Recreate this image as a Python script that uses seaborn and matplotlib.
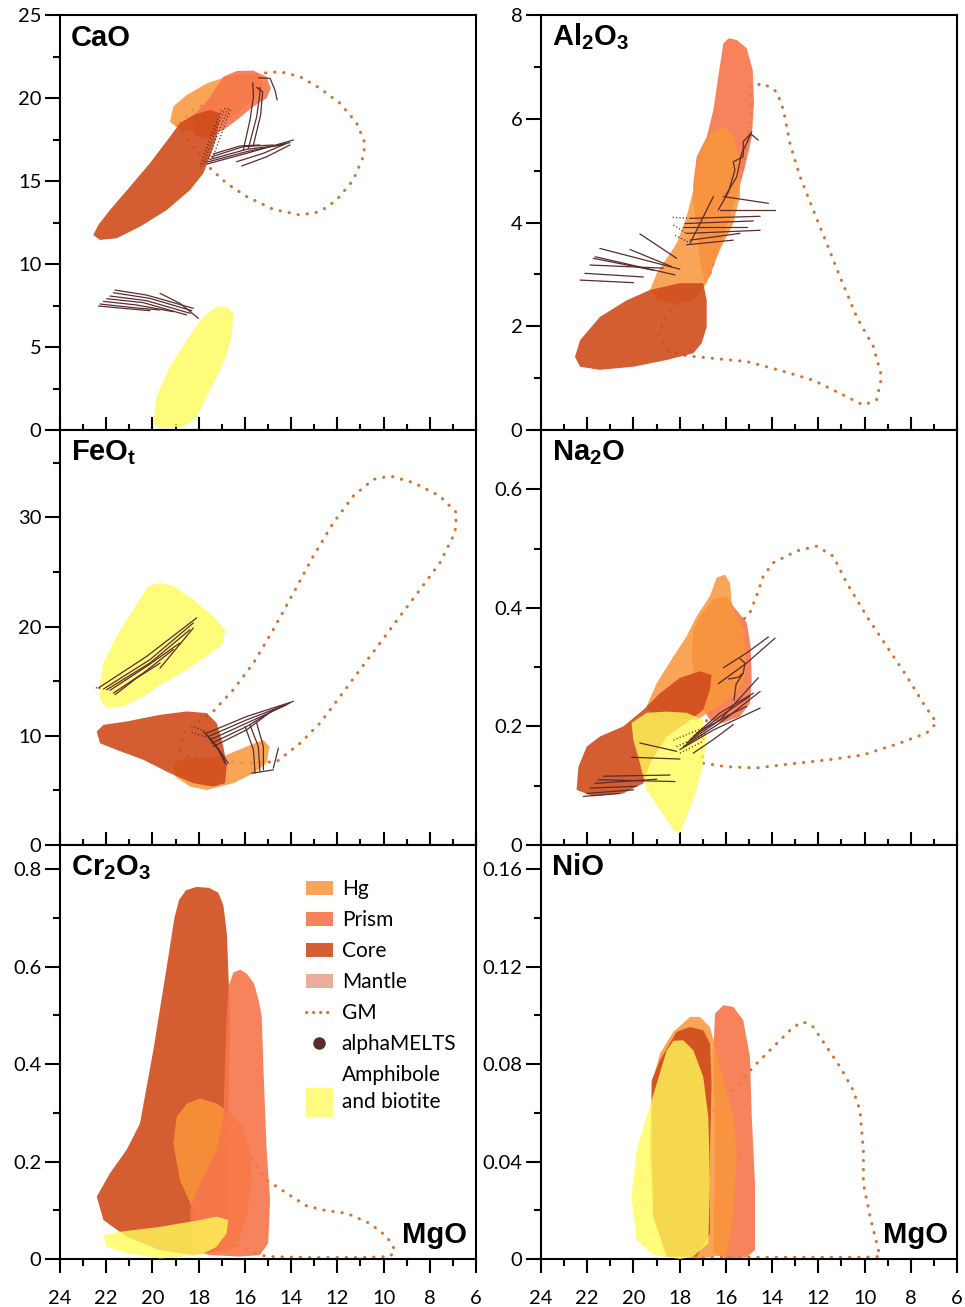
import matplotlib
matplotlib.use("Agg")
import matplotlib.pyplot as plt
import pandas as pd
import seaborn as sns
from matplotlib.patches import Patch, Rectangle
from matplotlib.lines import Line2D
from matplotlib.legend_handler import HandlerPatch
from matplotlib.ticker import MultipleLocator, FuncFormatter

# ---------------------------------------------------------------- data
# Fields are outlines in (MgO wt.%, oxide wt.%) space.

# CaO vs MgO
CAO_CORE = [(22.56, 11.75), (22.34, 12.35), (21.84, 13.25), (20.97, 14.66), (20.11, 16.07),
            (19.24, 17.67), (18.81, 18.48), (18.23, 18.98), (17.51, 19.28), (17.08, 19.08),
            (17.22, 17.67), (17.51, 16.46), (17.80, 15.46), (18.37, 14.46), (19.38, 13.25),
            (20.54, 12.25), (21.55, 11.55), (22.27, 11.45)]
CAO_HG = [(19.24, 18.57), (19.10, 19.48), (18.52, 20.18), (17.65, 20.88), (16.79, 21.28),
          (15.92, 21.48), (15.35, 21.28), (15.20, 20.68), (15.64, 19.88), (16.35, 19.08),
          (17.08, 18.37), (17.94, 17.97), (18.81, 18.07)]
CAO_PRISM = [(18.23, 18.07), (18.16, 19.08), (17.65, 19.78), (16.93, 21.28), (16.35, 21.63),
             (15.64, 21.65), (15.06, 21.28), (14.88, 20.58), (15.06, 19.98), (15.64, 19.48),
             (16.35, 18.67), (16.93, 18.07), (17.65, 17.57), (18.09, 17.67)]
CAO_AMPH = [(19.96, 0.40), (19.82, 2.01), (19.24, 3.81), (18.52, 5.42), (17.80, 6.83),
            (17.22, 7.43), (16.79, 7.43), (16.50, 7.03), (16.57, 5.62), (16.93, 4.02),
            (17.51, 2.41), (18.09, 0.80), (18.66, 0.20), (19.67, 0.10)]
CAO_GM = [(18.95, 18.37), (18.23, 17.07), (17.58, 15.86), (16.79, 14.86), (15.92, 14.06),
          (14.77, 13.29), (13.61, 12.95), (12.75, 13.15), (12.03, 13.86), (11.31, 15.06),
          (10.88, 16.46), (10.80, 17.27), (11.16, 18.48), (11.88, 19.68), (12.75, 20.58),
          (13.61, 21.28), (14.48, 21.59), (15.35, 21.48), (16.21, 21.08), (17.22, 20.08),
          (18.23, 19.28), (18.95, 18.37)]
CAO_MELTS = [
    [(21.62, 8.43), (20.25, 8.13), (18.23, 7.33)],
    [(21.69, 8.27), (20.11, 7.93), (18.30, 7.19)],
    [(21.84, 8.07), (20.25, 7.79), (18.37, 7.03)],
    [(21.98, 7.91), (20.39, 7.67), (18.52, 6.93)],
    [(22.12, 7.75), (20.68, 7.53), (19.10, 7.13)],
    [(22.27, 7.59), (20.83, 7.37), (19.67, 7.23)],
    [(22.34, 7.47), (21.12, 7.31), (20.11, 7.19)],
    [(19.67, 8.23), (18.81, 7.63), (18.01, 6.73)],
    [(17.65, 16.02), (15.92, 16.67), (13.90, 17.47)],
    [(17.58, 16.16), (15.92, 16.77), (14.05, 17.31)],
    [(17.51, 16.30), (15.92, 16.91), (14.34, 17.17)],
    [(17.44, 16.46), (16.07, 17.07), (14.77, 17.17)],
    [(17.37, 16.63), (16.21, 17.11), (15.35, 17.17)],
    [(16.14, 15.90), (15.06, 16.46), (14.05, 17.17)],
    [(16.36, 16.16), (15.20, 16.67), (14.19, 17.27)],
    [(16.07, 16.87), (15.78, 18.67), (15.63, 20.08), (15.66, 20.92)],
    [(15.85, 16.97), (15.49, 18.87), (15.35, 20.28), (15.35, 20.64)],
    [(15.63, 17.17), (15.32, 18.97), (15.23, 20.38), (15.49, 20.64)],
    [(15.42, 21.22), (14.91, 21.18), (14.70, 20.48), (14.60, 19.88)],
]
CAO_MELTS_DOTTED = [
    [(16.72, 19.38), (17.22, 17.67), (17.65, 16.06)],
    [(16.86, 19.38), (17.37, 17.67), (17.80, 15.96)],
    [(17.00, 19.28), (17.51, 17.57), (17.94, 15.86)],
    [(16.64, 19.28), (17.08, 17.57), (17.44, 16.26)],
]

# Al2O3 vs MgO
AL_CORE = [(22.53, 1.41), (22.31, 1.73), (21.45, 2.18), (20.29, 2.50), (19.28, 2.70),
           (17.99, 2.83), (16.98, 2.83), (16.83, 2.50), (16.83, 1.99), (17.05, 1.67),
           (17.41, 1.48), (18.56, 1.35), (20.00, 1.22), (21.45, 1.16), (22.31, 1.22)]
AL_HG = [(19.28, 2.70), (18.99, 3.02), (18.13, 3.60), (17.70, 4.11), (17.41, 4.63),
         (17.12, 5.33), (16.69, 5.72), (16.11, 5.85), (15.68, 5.65), (15.39, 5.20),
         (15.39, 4.50), (15.68, 3.98), (16.11, 3.60), (16.54, 3.21), (16.83, 2.83),
         (17.41, 2.50), (18.27, 2.44), (18.99, 2.50)]
AL_PRISM = [(17.41, 4.75), (17.26, 5.27), (16.83, 5.65), (16.54, 6.17), (16.33, 6.81),
            (16.11, 7.45), (15.89, 7.55), (15.53, 7.52), (15.10, 7.36), (14.84, 6.94),
            (14.78, 6.30), (14.88, 5.65), (15.17, 5.08), (15.53, 4.50), (15.97, 3.92),
            (16.40, 3.34), (16.69, 2.96), (16.90, 2.83), (17.12, 3.21), (17.26, 3.92),
            (17.41, 4.37)]
AL_GM = [(14.96, 6.62), (14.38, 6.68), (13.80, 6.52), (13.51, 6.17), (13.23, 5.53),
         (12.79, 4.88), (12.22, 4.24), (11.64, 3.60), (11.06, 2.95), (10.34, 2.18),
         (9.62, 1.61), (9.26, 1.03), (9.48, 0.58), (10.05, 0.48), (10.77, 0.64),
         (12.22, 0.96), (13.66, 1.15), (15.10, 1.32), (16.54, 1.38), (17.70, 1.43),
         (18.56, 1.54), (18.92, 1.86), (18.56, 2.25), (17.70, 2.57), (16.98, 2.83),
         (16.69, 3.02), (16.26, 3.60), (15.97, 4.11), (15.53, 4.63), (15.25, 5.14),
         (15.03, 5.65), (14.89, 6.17), (14.96, 6.62)]
AL_MELTS = [
    [(21.45, 3.50), (17.99, 3.10)],
    [(21.66, 3.34), (18.20, 2.99)],
    [(21.88, 3.18), (18.71, 3.12)],
    [(22.10, 3.02), (19.57, 2.95)],
    [(22.31, 2.89), (20.00, 2.84)],
    [(20.15, 3.48), (18.35, 3.15)],
    [(19.72, 3.78), (18.13, 3.31)],
    [(21.74, 3.31), (19.14, 3.08)],
    [(17.70, 3.57), (15.68, 3.66)],
    [(17.55, 3.66), (15.39, 3.79)],
    [(17.70, 3.79), (14.52, 3.85)],
    [(17.84, 3.92), (15.10, 3.92)],
    [(17.77, 3.98), (14.81, 4.03)],
    [(17.55, 4.08), (14.52, 4.12)],
    [(16.25, 4.24), (13.87, 4.24)],
    [(16.11, 4.50), (14.16, 4.37)],
    [(17.55, 3.60), (17.12, 3.98), (16.69, 4.37), (16.54, 4.50)],
    [(16.33, 4.24), (15.89, 4.59), (15.61, 5.01), (15.68, 5.17), (15.25, 5.27),
     (15.25, 5.56), (14.93, 5.71), (14.60, 5.59)],
    [(16.04, 4.50), (15.53, 4.88), (15.32, 5.33), (15.10, 5.53), (14.88, 5.75)],
]
AL_MELTS_DOTTED = [
    [(18.27, 3.95), (17.70, 3.79)],
    [(18.20, 3.75), (17.60, 3.62)],
    [(18.30, 4.10), (17.55, 4.08)],
]

# FeOt vs MgO
FE_CORE = [(22.41, 10.39), (22.12, 11.00), (21.12, 11.31), (19.67, 11.92), (18.52, 12.23),
           (17.65, 12.08), (17.22, 11.16), (16.93, 9.02), (16.79, 7.18), (16.86, 5.66),
           (17.37, 5.35), (18.23, 5.66), (19.24, 6.57), (20.39, 7.80), (21.55, 8.71),
           (22.27, 9.32)]
FE_HG = [(19.10, 7.49), (18.66, 7.95), (17.65, 7.95), (16.79, 8.25), (15.92, 9.02),
         (15.20, 9.63), (14.94, 9.02), (15.06, 7.49), (15.63, 6.57), (16.50, 5.66),
         (17.65, 5.04), (18.37, 5.35), (19.02, 6.27)]
FE_AMPH = [(22.27, 14.83), (22.12, 16.66), (21.55, 19.11), (20.83, 21.56), (20.18, 23.70),
           (19.67, 24.00), (19.10, 23.70), (18.23, 22.47), (17.37, 20.94), (16.86, 19.72),
           (16.93, 18.50), (17.65, 17.27), (18.52, 16.05), (19.53, 14.83), (20.39, 13.60),
           (21.26, 12.69), (21.98, 12.54), (22.27, 13.30)]
FE_GM = [(18.81, 8.71), (18.66, 10.24), (18.09, 11.16), (17.37, 12.23), (16.50, 14.22),
         (15.63, 16.66), (14.77, 19.72), (13.90, 23.08), (13.04, 26.45), (12.17, 29.51),
         (11.31, 31.95), (10.44, 33.48), (9.72, 33.79), (8.71, 33.18), (7.56, 31.95),
         (6.84, 30.42), (6.91, 28.59), (7.56, 25.84), (8.42, 23.39), (9.29, 20.94),
         (10.15, 18.50), (11.02, 16.05), (11.88, 13.60), (12.75, 11.16), (13.61, 9.32),
         (14.62, 7.64), (15.92, 7.49), (17.51, 7.80), (18.52, 8.10), (18.81, 8.71)]
FE_MELTS = [
    [(22.34, 14.37), (20.25, 17.27), (18.09, 20.79)],
    [(22.12, 14.28), (20.11, 16.97), (18.23, 20.33)],
    [(21.98, 14.22), (20.11, 16.66), (18.37, 19.72)],
    [(21.84, 14.16), (20.25, 16.36), (18.81, 18.50)],
    [(21.69, 13.91), (20.39, 15.75), (19.10, 17.89)],
    [(21.62, 13.76), (20.68, 15.29), (19.67, 16.66)],
    [(19.67, 16.20), (18.23, 19.87)],
    [(17.65, 10.24), (15.92, 11.77), (13.90, 13.15)],
    [(17.58, 9.94), (15.92, 11.46), (14.05, 12.99)],
    [(17.51, 9.63), (15.92, 11.16), (14.19, 12.84)],
    [(17.44, 9.32), (15.92, 10.85), (14.48, 12.69)],
    [(17.37, 9.02), (15.92, 10.55), (14.77, 12.38)],
    [(17.80, 10.39), (17.22, 9.02), (16.72, 7.49)],
    [(17.65, 10.09), (17.15, 8.71), (16.79, 7.34)],
    [(17.51, 9.78), (17.08, 8.56), (16.86, 7.49)],
    [(15.99, 10.85), (15.63, 8.71), (15.56, 6.57)],
    [(15.78, 11.00), (15.42, 9.02), (15.35, 6.73)],
    [(15.49, 11.16), (15.20, 9.02), (15.20, 6.88)],
    [(15.71, 6.57), (14.77, 6.88)],
    [(14.77, 7.03), (14.55, 8.87)],
]
FE_MELTS_DOTTED = [
    [(22.45, 14.40), (22.20, 14.35)],
    [(18.20, 10.80), (17.60, 10.30)],
    [(18.30, 10.30), (17.70, 9.90)],
]

# Na2O vs MgO
NA_CORE = [(22.46, 0.093), (22.38, 0.132), (22.02, 0.166), (21.45, 0.183), (20.44, 0.200),
           (19.57, 0.228), (18.85, 0.256), (17.99, 0.282), (17.12, 0.293), (16.62, 0.287),
           (16.69, 0.262), (16.98, 0.228), (17.70, 0.206), (18.56, 0.183), (19.28, 0.138),
           (19.57, 0.104), (20.44, 0.087), (21.74, 0.082)]
NA_HG = [(19.43, 0.234), (18.99, 0.273), (18.27, 0.318), (17.70, 0.352), (17.26, 0.386),
         (16.69, 0.420), (16.40, 0.451), (16.04, 0.456), (15.82, 0.442), (15.75, 0.409),
         (15.53, 0.386), (15.25, 0.363), (15.10, 0.307), (15.25, 0.273), (15.68, 0.251),
         (16.54, 0.228), (17.26, 0.211), (18.27, 0.211), (19.14, 0.217)]
NA_PRISM = [(17.48, 0.318), (17.41, 0.363), (17.12, 0.386), (16.54, 0.414), (15.97, 0.420),
            (15.68, 0.403), (15.10, 0.375), (14.93, 0.335), (14.88, 0.279), (14.96, 0.239),
            (15.39, 0.217), (16.11, 0.206), (16.69, 0.211), (17.05, 0.234), (17.34, 0.273)]
NA_AMPH = [(20.08, 0.206), (19.43, 0.223), (18.56, 0.225), (17.70, 0.223), (16.98, 0.211),
           (16.83, 0.183), (16.98, 0.138), (17.26, 0.093), (17.70, 0.048), (17.99, 0.020),
           (18.27, 0.025), (18.85, 0.059), (19.43, 0.093), (19.72, 0.138), (20.01, 0.178)]
NA_GM = [(16.98, 0.138), (15.97, 0.132), (14.67, 0.130), (12.94, 0.138), (11.50, 0.144),
         (10.05, 0.152), (8.47, 0.172), (7.31, 0.189), (6.88, 0.206), (7.46, 0.239),
         (8.18, 0.285), (9.04, 0.335), (9.91, 0.386), (10.77, 0.442), (11.35, 0.487),
         (12.07, 0.504), (12.94, 0.496), (13.95, 0.476), (14.38, 0.454), (14.67, 0.420),
         (14.96, 0.392), (15.25, 0.380), (15.46, 0.358), (15.68, 0.307), (16.26, 0.262),
         (16.83, 0.211), (17.05, 0.166), (16.98, 0.138)]
NA_MELTS = [
    [(21.30, 0.116), (18.42, 0.118)],
    [(21.52, 0.110), (18.20, 0.107)],
    [(21.66, 0.104), (18.99, 0.111)],
    [(21.88, 0.096), (19.86, 0.099)],
    [(22.02, 0.087), (20.00, 0.093)],
    [(22.17, 0.082), (20.58, 0.087)],
    [(19.72, 0.172), (18.13, 0.158)],
    [(20.08, 0.148), (17.99, 0.145)],
    [(17.99, 0.161), (16.54, 0.194), (14.52, 0.231)],
    [(17.84, 0.166), (16.25, 0.206), (14.52, 0.259)],
    [(17.70, 0.172), (16.25, 0.211), (14.60, 0.282)],
    [(17.55, 0.178), (16.25, 0.217), (14.96, 0.251)],
    [(17.41, 0.183), (16.25, 0.223), (14.81, 0.256)],
    [(17.26, 0.189), (15.97, 0.217), (15.10, 0.234)],
    [(17.41, 0.155), (16.54, 0.178), (15.68, 0.203)],
    [(16.11, 0.299), (15.10, 0.324), (14.16, 0.351)],
    [(16.33, 0.272), (15.10, 0.307), (13.87, 0.349)],
    [(15.65, 0.244), (15.56, 0.271), (15.25, 0.290), (15.17, 0.307), (15.39, 0.314)],
    [(15.89, 0.280), (15.46, 0.283), (15.25, 0.290)],
]
NA_MELTS_DOTTED = [
    [(18.27, 0.177), (16.83, 0.200)],
    [(18.13, 0.166), (16.83, 0.189)],
    [(17.99, 0.155), (16.98, 0.175)],
]

# Cr2O3 vs MgO
CR_CORE = [(22.41, 0.128), (21.84, 0.176), (21.12, 0.224), (20.54, 0.278), (19.96, 0.429),
           (19.38, 0.600), (19.05, 0.700), (18.85, 0.737), (18.55, 0.757), (18.09, 0.764),
           (17.55, 0.762), (17.15, 0.752), (16.93, 0.726), (16.78, 0.668), (16.64, 0.497),
           (16.72, 0.292), (16.64, 0.087), (17.08, 0.018), (18.23, 0.008), (19.67, 0.018),
           (21.12, 0.046), (22.12, 0.080)]
CR_PRISM = [(18.30, 0.018), (18.37, 0.101), (17.94, 0.155), (17.22, 0.224), (16.93, 0.292),
            (16.79, 0.497), (16.70, 0.560), (16.50, 0.588), (16.20, 0.594), (15.92, 0.586),
            (15.60, 0.565), (15.40, 0.530), (15.27, 0.497), (15.20, 0.395), (15.06, 0.224),
            (14.91, 0.121), (14.99, 0.032), (15.35, 0.008), (16.21, 0.005), (17.51, 0.008)]
CR_HG = [(19.10, 0.237), (18.95, 0.292), (18.52, 0.319), (17.94, 0.330), (17.22, 0.319),
         (16.64, 0.299), (16.07, 0.271), (15.78, 0.224), (15.71, 0.155), (15.92, 0.087),
         (16.36, 0.025), (16.93, 0.012), (17.65, 0.053), (18.23, 0.101), (18.81, 0.162)]
CR_AMPH = [(22.12, 0.049), (21.40, 0.056), (19.67, 0.066), (17.94, 0.080), (17.22, 0.087),
           (16.72, 0.080), (16.79, 0.053), (17.22, 0.025), (17.94, 0.008), (19.67, 0.001),
           (21.12, 0.012), (21.98, 0.025)]
CR_GM = [(18.95, 0.271), (18.52, 0.299), (17.80, 0.299), (16.79, 0.271), (15.92, 0.224),
         (15.06, 0.162), (14.19, 0.135), (13.33, 0.109), (12.46, 0.099), (11.60, 0.094),
         (10.59, 0.073), (9.86, 0.046), (9.50, 0.018), (9.72, 0.005), (11.02, 0.003),
         (13.18, 0.003), (15.06, 0.005), (15.92, 0.018), (17.08, 0.053), (18.23, 0.121),
         (18.81, 0.196), (18.95, 0.271)]

# NiO vs MgO
NI_PRISM = [(16.54, 0.0023), (16.47, 0.0447), (16.54, 0.0857), (16.47, 0.1008), (16.11, 0.1042),
            (15.68, 0.1035), (15.25, 0.0981), (14.96, 0.0830), (14.88, 0.0584), (14.74, 0.0310),
            (14.74, 0.0037), (15.10, 0.0007), (15.97, 0.0003)]
NI_HG = [(19.21, 0.0721), (18.85, 0.0844), (18.27, 0.0933), (17.55, 0.0994), (17.12, 0.0994),
         (16.69, 0.0953), (16.25, 0.0789), (15.68, 0.0584), (15.53, 0.0447), (15.68, 0.0174),
         (15.97, 0.0016), (17.26, 0.0003), (18.56, 0.0010), (19.14, 0.0174), (19.28, 0.0447)]
NI_CORE = [(19.21, 0.0734), (18.85, 0.0816), (18.13, 0.0933), (17.55, 0.0953), (16.98, 0.0939),
           (16.69, 0.0885), (16.62, 0.0721), (16.69, 0.0447), (16.69, 0.0105), (17.26, 0.0010),
           (18.56, 0.0010), (19.14, 0.0174), (19.21, 0.0447)]
NI_AMPH = [(20.08, 0.0256), (19.86, 0.0447), (19.43, 0.0584), (18.99, 0.0721), (18.56, 0.0857),
           (18.27, 0.0896), (17.84, 0.0898), (17.41, 0.0857), (16.98, 0.0748), (16.76, 0.0584),
           (16.69, 0.0310), (16.76, 0.0064), (17.41, 0.0010), (17.99, 0.0000), (19.14, 0.0016),
           (19.86, 0.0078)]
NI_GM = [(16.54, 0.0611), (15.68, 0.0693), (14.81, 0.0789), (13.95, 0.0871), (13.08, 0.0953),
         (12.65, 0.0974), (12.22, 0.0953), (11.64, 0.0871), (11.06, 0.0789), (10.49, 0.0693),
         (10.20, 0.0611), (10.05, 0.0447), (10.05, 0.0310), (9.76, 0.0174), (9.33, 0.0010),
         (10.05, 0.0007), (12.22, 0.0007), (14.38, 0.0007), (16.54, 0.0007), (17.70, 0.0007)]

# ---------------------------------------------------------------- style
COL = {
    "Hg": "#F9963A",
    "Prism": "#F7764A",
    "Core": "#D04B1B",
    "Mantle": "#E8AD9C",
    "GM": "#CF7434",
    "MELTS": "#5B2B2E",
    "Amph": "#FFFA5A",
}
ALPHA = {"Hg": 0.85, "Prism": 0.9, "Core": 0.9, "Amph": 0.8}

sns.set_style("ticks")
plt.rcParams.update({
    "font.family": ["Lato", "DejaVu Sans"],
    "mathtext.fontset": "custom",
    "mathtext.rm": "Liberation Sans:bold",
    "mathtext.bf": "Liberation Sans:bold",
    "mathtext.it": "Liberation Sans:bold",
    "axes.edgecolor": "black",
    "axes.linewidth": 1.5,
    "xtick.color": "black",
    "ytick.color": "black",
    "text.color": "black",
})

fig = plt.figure(figsize=(9.65, 13.07), dpi=100)

W = 416 / 965
H = 415 / 1307
LEFT, RIGHT = 60 / 965, 541 / 965
ROWS = [1 - 430 / 1307, 1 - 845 / 1307, 1 - 1259 / 1307]

fmt = FuncFormatter(lambda v, p: f"{v:g}")


def melts_frame(tracks):
    rows = []
    for k, tr in enumerate(tracks):
        for i, (x, y) in enumerate(tr):
            rows.append({"track": k, "step": i, "MgO": x, "val": y})
    return pd.DataFrame(rows)


def setup(ax, ylim, major, minor, bottom_row, title, title_x=0.027):
    ax.set_xlim(24, 6)
    ax.set_ylim(*ylim)
    ax.xaxis.set_major_locator(MultipleLocator(2))
    ax.xaxis.set_minor_locator(MultipleLocator(1))
    ax.yaxis.set_major_locator(MultipleLocator(major))
    ax.yaxis.set_minor_locator(MultipleLocator(minor))
    ax.yaxis.set_major_formatter(fmt)
    ax.xaxis.set_major_formatter(fmt)
    ax.tick_params(axis="y", which="major", direction="out", length=10.5, width=1.5,
                   labelsize=14.5, pad=3)
    ax.tick_params(axis="y", which="minor", direction="out", length=5, width=1.5)
    if bottom_row:
        ax.tick_params(axis="x", which="major", direction="out", length=10, width=1.5,
                       labelsize=14.5, pad=12)
        ax.tick_params(axis="x", which="minor", direction="out", length=5, width=1.5)
    else:
        ax.tick_params(axis="x", which="major", direction="in", length=9.5, width=1.5,
                       labelbottom=False)
        ax.tick_params(axis="x", which="minor", direction="in", length=4, width=1.5)
    for s in ax.spines.values():
        s.set_linewidth(1.5)
        s.set_color("black")
    ax.set_xlabel("")
    ax.set_ylabel("")
    ax.text(title_x, 1 - 30.5 / 415, title, transform=ax.transAxes, fontsize=21,
            fontweight="bold", family="Liberation Sans", va="baseline", ha="left")
    if bottom_row:
        ax.text(0.978, 16 / 414, "MgO", transform=ax.transAxes, fontsize=21,
                fontweight="bold", family="Liberation Sans", va="baseline", ha="right")


def fill_field(ax, pts, key, z):
    xs = [p[0] for p in pts]
    ys = [p[1] for p in pts]
    ax.fill(xs, ys, color=COL[key], alpha=ALPHA[key], lw=0, zorder=z)


def draw(ax, fields, gm, melts=None, dotted=None):
    for z, (pts, key) in enumerate(fields):
        fill_field(ax, pts, key, 2 + z)
    gx = [p[0] for p in gm]
    gy = [p[1] for p in gm]
    sns.lineplot(x=gx, y=gy, sort=False, estimator=None, ax=ax, color=COL["GM"],
                 lw=2.2, linestyle=(0, (0.1, 2.9)), dash_capstyle="round", zorder=1)
    if melts:
        sns.lineplot(data=melts_frame(melts), x="MgO", y="val", units="track",
                     estimator=None, sort=False, ax=ax, color=COL["MELTS"], lw=0.9,
                     zorder=10, legend=False)
    if dotted:
        sns.lineplot(data=melts_frame(dotted), x="MgO", y="val", units="track",
                     estimator=None, sort=False, ax=ax, color=COL["MELTS"], lw=1.0,
                     linestyle=(0, (0.8, 1.6)), zorder=10, legend=False)


# CaO
ax = fig.add_axes([LEFT, ROWS[0], W, H])
draw(ax, [(CAO_HG, "Hg"), (CAO_PRISM, "Prism"), (CAO_CORE, "Core"), (CAO_AMPH, "Amph")],
     CAO_GM, CAO_MELTS, CAO_MELTS_DOTTED)
setup(ax, (0, 25), 5, 2.5, False, "CaO")

# Al2O3
ax = fig.add_axes([RIGHT, ROWS[0], W, H])
draw(ax, [(AL_PRISM, "Prism"), (AL_HG, "Hg"), (AL_CORE, "Core")],
     AL_GM, AL_MELTS, AL_MELTS_DOTTED)
setup(ax, (0, 8), 2, 1, False, r"$\mathbf{Al_2O_3}$", 0.026)

# FeOt
ax = fig.add_axes([LEFT, ROWS[1], W, H])
draw(ax, [(FE_AMPH, "Amph"), (FE_HG, "Hg"), (FE_CORE, "Core")],
     FE_GM, FE_MELTS, FE_MELTS_DOTTED)
setup(ax, (0, 38), 10, 5, False, r"$\mathbf{FeO_t}$")

# Na2O
ax = fig.add_axes([RIGHT, ROWS[1], W, H])
draw(ax, [(NA_PRISM, "Prism"), (NA_HG, "Hg"), (NA_CORE, "Core"), (NA_AMPH, "Amph")],
     NA_GM, NA_MELTS, NA_MELTS_DOTTED)
setup(ax, (0, 0.7), 0.2, 0.1, False, r"$\mathbf{Na_2O}$", 0.026)

# Cr2O3
ax = fig.add_axes([LEFT, ROWS[2], W, 414 / 1307])
draw(ax, [(CR_CORE, "Core"), (CR_HG, "Hg"), (CR_PRISM, "Prism"), (CR_AMPH, "Amph")], CR_GM)
setup(ax, (0, 0.85), 0.2, 0.1, True, r"$\mathbf{Cr_2O_3}$")


class LowerLinePatch(HandlerPatch):
    """Tall swatch aligned with the second line of a two-line label."""

    def create_artists(self, legend, orig_handle, xdescent, ydescent, width, height,
                       fontsize, trans):
        h = 2.0 * height
        y0 = -ydescent + height / 2 - 0.62 * fontsize - h / 2
        p = Rectangle((-xdescent, y0), width, h, facecolor=orig_handle.get_facecolor(),
                      lw=0, transform=trans)
        return [p]


handles = [
    Patch(facecolor=COL["Hg"], alpha=ALPHA["Hg"], lw=0),
    Patch(facecolor=COL["Prism"], alpha=ALPHA["Prism"], lw=0),
    Patch(facecolor=COL["Core"], alpha=ALPHA["Core"], lw=0),
    Patch(facecolor=COL["Mantle"], lw=0),
    Line2D([], [], color=COL["GM"], lw=2.2, linestyle=(0, (0.1, 2.2)),
           dash_capstyle="round"),
    Line2D([], [], color=COL["MELTS"], marker="o", markersize=8, linestyle="none"),
    Patch(facecolor="#FFFB7E", lw=0),
]
labels = ["Hg", "Prism", "Core", "Mantle", "GM", "alphaMELTS", "Amphibole\nand biotite"]
leg = ax.legend(handles, labels, loc="upper left", bbox_to_anchor=(0.591, 0.918),
                frameon=False, fontsize=15, handlelength=1.3, handleheight=0.67,
                handletextpad=0.42, labelspacing=0.53, borderpad=0, borderaxespad=0,
                handler_map={handles[-1]: LowerLinePatch()})
for t in leg.get_texts():
    t.set_linespacing(1.45)

# NiO
ax = fig.add_axes([RIGHT, ROWS[2], W, 414 / 1307])
draw(ax, [(NI_PRISM, "Prism"), (NI_HG, "Hg"), (NI_CORE, "Core"), (NI_AMPH, "Amph")], NI_GM)
setup(ax, (0, 0.17), 0.04, 0.02, True, "NiO", 0.026)

fig.savefig("out.png", dpi=100)
